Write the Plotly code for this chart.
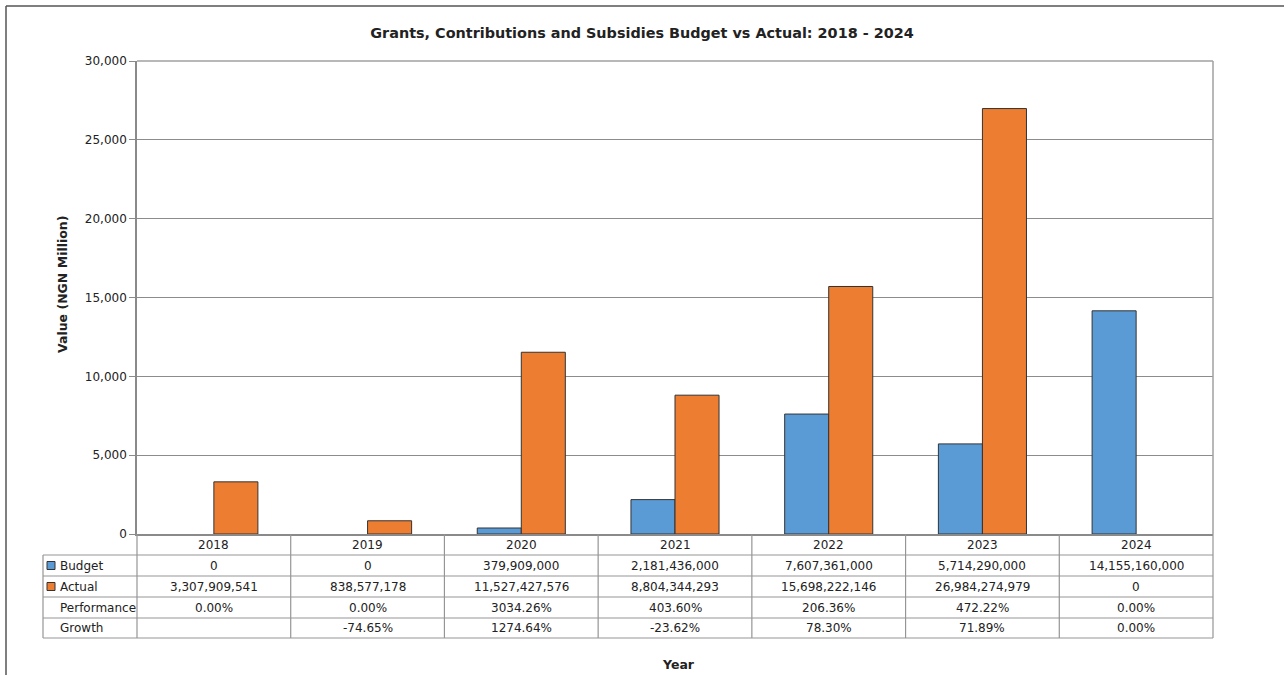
import plotly.graph_objects as go

# Grants, contributions and subsidies (NGN)
years = ["2018", "2019", "2020", "2021", "2022", "2023", "2024"]
budget = [0, 0, 379909000, 2181436000, 7607361000, 5714290000, 14155160000]
actual = [3307909541, 838577178, 11527427576, 8804344293, 15698222146, 26984274979, 0]
performance = ["0.00%", "0.00%", "3034.26%", "403.60%", "206.36%", "472.22%", "0.00%"]
growth = ["", "-74.65%", "1274.64%", "-23.62%", "78.30%", "71.89%", "0.00%"]
y_ticks = [0, 5000, 10000, 15000, 20000, 25000, 30000]

BLUE = "#5B9BD5"
ORANGE = "#ED7D31"
EDGE = "#333333"
TEXT = "#222222"
FONT = "DejaVu Sans"

# plot area in pixels
L, R, T, B = 137, 1213, 61, 534
W, H = R - L, B - T


def px(x):
    return (x - L) / W


def py(y):
    return (B - y) / H


def millions(values):
    # zero values get no bar at all
    return [v / 1e6 if v else None for v in values]


fig = go.Figure()
fig.add_trace(go.Bar(x=years, y=millions(budget), name="Budget",
                     marker=dict(color=BLUE, line=dict(color=EDGE, width=1))))
fig.add_trace(go.Bar(x=years, y=millions(actual), name="Actual",
                     marker=dict(color=ORANGE, line=dict(color=EDGE, width=1))))

shapes = []
annotations = []

# outer chart frame (left and top edges)
shapes.append(dict(type="line", xref="paper", yref="paper", x0=px(6), x1=px(6),
                   y0=py(6), y1=py(680), line=dict(color="#555555", width=1.5)))
shapes.append(dict(type="line", xref="paper", yref="paper", x0=px(6), x1=px(1290),
                   y0=py(6), y1=py(6), line=dict(color="#555555", width=1.5)))

# plot area border (top and right)
shapes.append(dict(type="line", xref="paper", yref="paper", x0=0, x1=1, y0=1, y1=1,
                   line=dict(color="#a0a0a0", width=1.5)))
shapes.append(dict(type="line", xref="paper", yref="paper", x0=1, x1=1, y0=0, y1=1,
                   line=dict(color="#a0a0a0", width=1.5)))

# data table grid
row_edges = [534, 555, 576, 597, 618, 638]
grid_col = "#959595"
n = len(years)
for k in range(n + 1):
    xk = k / n
    shapes.append(dict(type="line", xref="paper", yref="paper", x0=xk, x1=xk,
                       y0=py(534), y1=py(638), line=dict(color=grid_col, width=1.2)))
shapes.append(dict(type="line", xref="paper", yref="paper", x0=px(43), x1=px(43),
                   y0=py(555), y1=py(638), line=dict(color=grid_col, width=1.2)))
for ye in row_edges[1:]:
    shapes.append(dict(type="line", xref="paper", yref="paper", x0=px(43), x1=1,
                       y0=py(ye), y1=py(ye), line=dict(color=grid_col, width=1.2)))

centers = [(row_edges[i] + row_edges[i + 1]) / 2 for i in range(5)]


def fmt(v):
    return f"{v:,.0f}"


rows = [years, [fmt(v) for v in budget], [fmt(v) for v in actual], performance, growth]
for r, vals in enumerate(rows):
    for k, txt in enumerate(vals):
        if txt == "":
            continue
        annotations.append(dict(xref="paper", yref="paper", x=(k + 0.5) / n, y=py(centers[r]),
                                text=txt, showarrow=False, xanchor="center", yanchor="middle",
                                font=dict(family=FONT, size=12, color=TEXT)))

row_labels = ["Budget", "Actual", "Performance", "Growth"]
for i, lab in enumerate(row_labels):
    annotations.append(dict(xref="paper", yref="paper", x=px(58), y=py(centers[i + 1]),
                            text=lab, showarrow=False, xanchor="left", yanchor="middle",
                            font=dict(family=FONT, size=12, color=TEXT)))

# legend keys in the table
for i, col in enumerate([BLUE, ORANGE]):
    c = centers[i + 1]
    shapes.append(dict(type="rect", xref="paper", yref="paper", x0=px(47), x1=px(55),
                       y0=py(c + 4), y1=py(c - 4), fillcolor=col,
                       line=dict(color=EDGE, width=1)))

# axis titles
annotations.append(dict(xref="paper", yref="paper", x=px(678), y=py(664), text="<b>Year</b>",
                        showarrow=False, xanchor="center", yanchor="middle",
                        font=dict(family=FONT, size=12.5, color=TEXT)))
annotations.append(dict(xref="paper", yref="paper", x=px(62), y=py(285),
                        text="<b>Value (NGN Million)</b>", textangle=-90,
                        showarrow=False, xanchor="center", yanchor="middle",
                        font=dict(family=FONT, size=12.5, color=TEXT)))

fig.update_layout(
    width=1284, height=675,
    margin=dict(l=L, r=1284 - R, t=T, b=675 - B, pad=0),
    paper_bgcolor="white", plot_bgcolor="white",
    title=dict(text="<b>Grants, Contributions and Subsidies Budget vs Actual: 2018 - 2024</b>",
               x=0.5, xref="container", xanchor="center", y=1 - 33 / 675, yanchor="middle",
               font=dict(family=FONT, size=14.4, color=TEXT)),
    barmode="group", bargap=0.427, bargroupgap=0,
    showlegend=False,
    xaxis=dict(showticklabels=False, ticks="", showgrid=False, showline=True,
               linecolor="#8a8a8a", linewidth=1.5, zeroline=False, fixedrange=True),
    yaxis=dict(range=[0, 30000], tickvals=y_ticks, tickformat=",d",
               ticks="outside", ticklen=6, tickcolor="#8a8a8a",
               showgrid=True, gridcolor="#8c8c8c", gridwidth=1,
               showline=True, linecolor="#8a8a8a", linewidth=1.5, zeroline=False,
               tickfont=dict(family=FONT, size=12, color=TEXT)),
    shapes=shapes,
    annotations=annotations,
)

fig.write_html("out.html")
